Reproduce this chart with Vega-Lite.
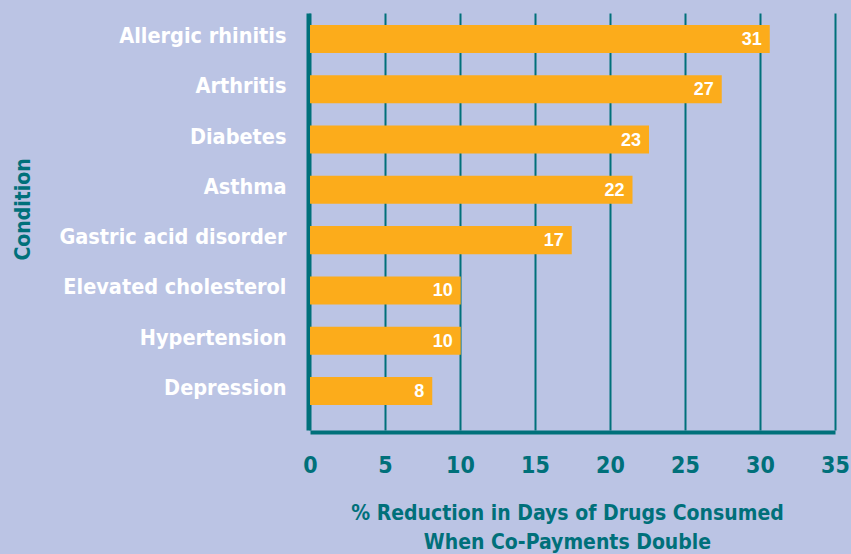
{
  "$schema": "https://vega.github.io/schema/vega-lite/v6.json",
  "width": 525,
  "height": 417,
  "autosize": {"type": "none"},
  "padding": {"left": 310, "top": 13, "right": 16, "bottom": 124},
  "background": "#bbc4e4",
  "config": {"view": {"stroke": null}},
  "data": {
    "values": [
      {"condition": "Allergic rhinitis", "value": 30.65, "label": "31"},
      {"condition": "Arthritis", "value": 27.45, "label": "27"},
      {"condition": "Diabetes", "value": 22.6, "label": "23"},
      {"condition": "Asthma", "value": 21.5, "label": "22"},
      {"condition": "Gastric acid disorder", "value": 17.45, "label": "17"},
      {"condition": "Elevated cholesterol", "value": 10.05, "label": "10"},
      {"condition": "Hypertension", "value": 10.05, "label": "10"},
      {"condition": "Depression", "value": 8.15, "label": "8"}
    ]
  },
  "encoding": {
    "y": {
      "field": "condition",
      "type": "nominal",
      "sort": null,
      "scale": {"paddingInner": 0.443, "paddingOuter": 0.368, "align": 0.324},
      "axis": {
        "title": "Condition",
        "titleFont": "DejaVu Sans Condensed",
        "titleFontWeight": "bold",
        "titleFontSize": 21,
        "titleColor": "#00707a",
        "titleAngle": 270,
        "titleAlign": "center",
        "titleBaseline": "middle",
        "titleX": -285,
        "titleY": 196,
        "offset": 2,
        "domain": true,
        "domainColor": "#00707a",
        "domainWidth": 4,
        "ticks": false,
        "tickSize": 0,
        "grid": false,
        "labelPadding": 22,
        "labelOffset": -2,
        "labelFont": "DejaVu Sans Condensed",
        "labelFontWeight": "bold",
        "labelFontSize": 21.5,
        "labelColor": "#ffffff",
        "labelLimit": 320
      }
    }
  },
  "layer": [
    {
      "mark": {"type": "bar", "color": "#fcac1b"},
      "encoding": {
        "x": {
          "field": "value",
          "type": "quantitative",
          "scale": {"domain": [0, 35], "nice": false},
          "axis": {
            "values": [0, 5, 10, 15, 20, 25, 30, 35],
            "offset": 2,
            "grid": true,
            "gridColor": "#00707a",
            "gridWidth": 2,
            "gridOpacity": 1,
            "domain": true,
            "domainColor": "#00707a",
            "domainWidth": 4,
            "ticks": false,
            "tickSize": 0,
            "labelFlush": false,
            "labelPadding": 22,
            "labelFont": "DejaVu Sans Condensed",
            "labelFontWeight": "bold",
            "labelFontSize": 23,
            "labelColor": "#00707a",
            "title": ["% Reduction in Days of Drugs Consumed", "When Co-Payments Double"],
            "titleFont": "DejaVu Sans Condensed",
            "titleFontWeight": "bold",
            "titleFontSize": 21,
            "titleColor": "#00707a",
            "titleLineHeight": 29,
            "titleAlign": "center",
            "titleBaseline": "alphabetic",
            "titleX": 257,
            "titleY": 87
          }
        }
      }
    },
    {
      "mark": {
        "type": "text",
        "align": "right",
        "baseline": "middle",
        "dx": -8,
        "dy": 1,
        "font": "Liberation Sans",
        "fontWeight": "bold",
        "fontSize": 18,
        "color": "#ffffff"
      },
      "encoding": {
        "x": {"field": "value", "type": "quantitative"},
        "text": {"field": "label"}
      }
    }
  ]
}
